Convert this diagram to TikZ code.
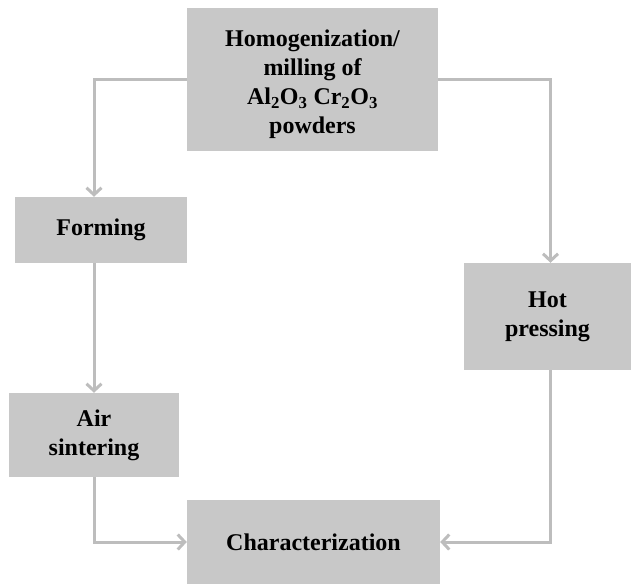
\documentclass[tikz,border=0pt]{standalone}
\usepackage{fontspec}
\setmainfont{Liberation Serif}
\usetikzlibrary{arrows.meta}
\definecolor{boxgray}{HTML}{C8C8C8}
\definecolor{linegray}{HTML}{BDBDBD}
\tikzset{
  stepbox/.style={fill=boxgray, draw=none, align=center, inner sep=0pt,
    font=\fontsize{24}{29}\selectfont\bfseries},
  arr/.style={draw=linegray, line width=3pt,
    -{Straight Barb[length=7pt,width=15pt,line width=3pt]}}
}
\begin{document}
\begin{tikzpicture}[x=1pt,y=-1pt]
\useasboundingbox (0,0) rectangle (631,584);
\node[stepbox, minimum width=251pt, minimum height=143pt] (top) at (312.5,79.5)
  {\raisebox{-5pt}[\height][\depth]{\begin{tabular}{@{}c@{}}Homogenization/\\milling of\\Al\textsubscript{2}O\textsubscript{3} Cr\textsubscript{2}O\textsubscript{3}\\powders\end{tabular}}};
\node[stepbox, minimum width=172pt, minimum height=66pt] (form) at (101,230) {Forming};
\node[stepbox, minimum width=167pt, minimum height=107pt] (hot) at (547.5,316.5) {Hot\\pressing};
\node[stepbox, minimum width=170pt, minimum height=84pt] (air) at (94,435) {Air\\sintering};
\node[stepbox, minimum width=253pt, minimum height=84pt] (char) at (313.5,542) {Characterization};
\coordinate (l) at (94,0);
\coordinate (r) at (550.5,0);
\draw[arr] (top.west) -| (l |- form.north);
\draw[arr] (top.east) -| (r |- hot.north);
\draw[arr] (l |- form.south) -- (l |- air.north);
\draw[arr] (l |- air.south) |- (char.west);
\draw[arr] (r |- hot.south) |- (char.east);
\end{tikzpicture}
\end{document}
